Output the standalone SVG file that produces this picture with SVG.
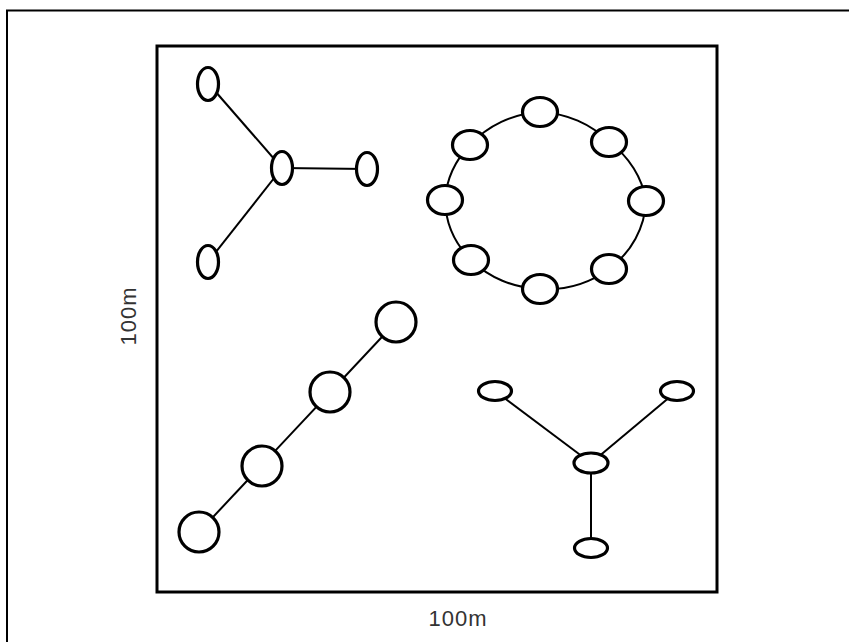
<svg xmlns="http://www.w3.org/2000/svg" width="849" height="642" viewBox="0 0 849 642">
<style>
.n{fill:#fff;stroke:#000;stroke-width:3.2}
.e{fill:none;stroke:#000;stroke-width:2}
.t{font-family:"Liberation Sans",Arial,sans-serif;font-size:22px;fill:#333;letter-spacing:1px}
</style>
<rect x="0" y="0" width="849" height="642" fill="#fff"/>
<path d="M7,642 V10.5 H849" fill="none" stroke="#000" stroke-width="2"/>
<rect x="157" y="46" width="560" height="546" fill="none" stroke="#000" stroke-width="3"/>
<g id="connectors">
<line class="e" x1="208" y1="83" x2="282" y2="168"/>
<line class="e" x1="282" y1="168" x2="367" y2="169"/>
<line class="e" x1="282" y1="168" x2="208" y2="262"/>
<path class="e" d="M540,112 A100,92 0 0 1 609,142 A100,92 0 0 1 646,201 A100,92 0 0 1 609,269 A100,92 0 0 1 540,289 A100,92 0 0 1 471,260 A100,92 0 0 1 445,200 A100,92 0 0 1 470,145 A100,92 0 0 1 540,112"/>
<line class="e" x1="396" y1="322" x2="199" y2="532"/>
<line class="e" x1="495" y1="391" x2="591" y2="463"/>
<line class="e" x1="677" y1="391" x2="591" y2="463"/>
<line class="e" x1="591" y1="463" x2="591" y2="548"/>
</g>
<g id="star1">
<ellipse id="s1a" class="n" cx="208" cy="84" rx="10.5" ry="16.5"/>
<ellipse id="s1b" class="n" cx="282" cy="168" rx="10.5" ry="16.5"/>
<ellipse id="s1c" class="n" cx="367" cy="169" rx="10.5" ry="16.5"/>
<ellipse id="s1d" class="n" cx="208" cy="262" rx="10.5" ry="16.5"/>
</g>
<g id="ring">
<ellipse id="r1" class="n" cx="540" cy="112" rx="17.5" ry="14.5"/>
<ellipse id="r2" class="n" cx="609" cy="142" rx="17.5" ry="14.5"/>
<ellipse id="r3" class="n" cx="646" cy="201" rx="17.5" ry="14.5"/>
<ellipse id="r4" class="n" cx="609" cy="269" rx="17.5" ry="14.5"/>
<ellipse id="r5" class="n" cx="540" cy="289" rx="17.5" ry="14.5"/>
<ellipse id="r6" class="n" cx="471" cy="260" rx="17.5" ry="14.5"/>
<ellipse id="r7" class="n" cx="445" cy="200" rx="17.5" ry="14.5"/>
<ellipse id="r8" class="n" cx="470" cy="145" rx="17.5" ry="14.5"/>
</g>
<g id="chain">
<circle id="c1" class="n" cx="396" cy="322" r="20"/>
<circle id="c2" class="n" cx="330" cy="392" r="20"/>
<circle id="c3" class="n" cx="262" cy="466" r="20"/>
<circle id="c4" class="n" cx="199" cy="532" r="20"/>
</g>
<g id="star2">
<ellipse id="y1" class="n" cx="495" cy="391" rx="16.5" ry="9.5"/>
<ellipse id="y2" class="n" cx="677" cy="391" rx="16.5" ry="9.5"/>
<ellipse id="y3" class="n" cx="591" cy="463" rx="17" ry="10"/>
<ellipse id="y4" class="n" cx="591" cy="548" rx="16.5" ry="9.5"/>
</g>
<text class="t" x="458" y="626" text-anchor="middle">100m</text>
<text class="t" x="0" y="0" text-anchor="middle" transform="translate(136,316) rotate(-90)">100m</text>
</svg>
